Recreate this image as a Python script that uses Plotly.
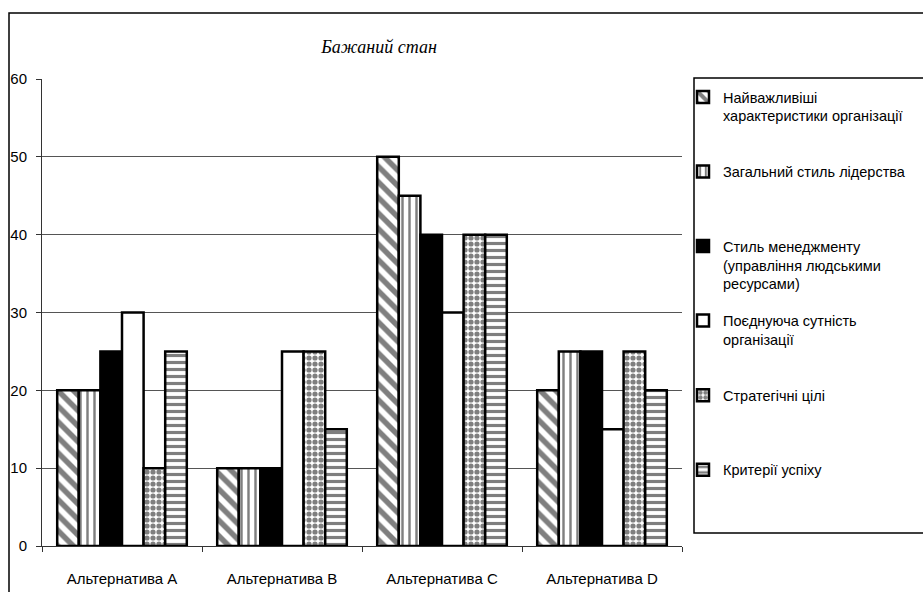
import plotly.graph_objects as go

# Категорії та значення рядів
categories = ["Альтернатива A", "Альтернатива B", "Альтернатива C", "Альтернатива D"]

series_names = [
    "Найважливіші<br>характеристики організації",
    "Загальний стиль лідерства",
    "Стиль менеджменту<br>(управління людськими<br>ресурсами)",
    "Поєднуюча сутність<br>організації",
    "Стратегічні цілі",
    "Критерії успіху",
]

vals_characteristics = [20, 10, 50, 20]
vals_leadership = [20, 10, 45, 25]
vals_management = [25, 10, 40, 25]
vals_glue = [30, 25, 30, 15]
vals_strategy = [10, 25, 40, 25]
vals_success = [25, 15, 40, 20]

series_values = [
    vals_characteristics,
    vals_leadership,
    vals_management,
    vals_glue,
    vals_strategy,
    vals_success,
]

# Заливка кожного ряду (візерунок / суцільний колір)
fills = [
    dict(color="white", pattern=dict(shape="\\", fgcolor="black", bgcolor="white", size=11, solidity=0.5)),
    dict(color="white", pattern=dict(shape="|", fgcolor="black", bgcolor="white", size=7, solidity=0.35)),
    dict(color="black"),
    dict(color="white"),
    dict(color="white", pattern=dict(shape=".", fgcolor="black", bgcolor="white", size=6, solidity=0.6)),
    dict(color="white", pattern=dict(shape="-", fgcolor="black", bgcolor="white", size=7, solidity=0.45)),
]

W, H = 923, 592
L, R, T, B = 42, 682, 79, 546  # межі області побудови в пікселях


def px_x(p):
    return (p - L) / (R - L)


def px_y(p):
    return (B - p) / (B - T)


fig = go.Figure()
for i, (name, vals, fill) in enumerate(zip(series_names, series_values, fills)):
    # доповнюємо підпис до трьох рядків, щоб елементи легенди йшли рівномірно
    n_lines = name.count("<br>") + 1
    label = name + "<br> " * (3 - n_lines)
    marker = dict(line=dict(color="black", width=2.5), **fill)
    fig.add_trace(go.Bar(
        x=categories, y=vals, name=label, marker=marker,
        legendgroup=f"g{i}",
    ))

fig.update_layout(
    width=W, height=H, autosize=False,
    margin=dict(l=L, r=W - R, t=T, b=H - B, pad=0),
    paper_bgcolor="white", plot_bgcolor="white",
    barmode="group", bargap=0.19, bargroupgap=0,
    font=dict(family="Liberation Sans, Arial, sans-serif", size=15, color="black"),
    title=dict(
        text="<i>Бажаний стан</i>",
        font=dict(family="Liberation Serif, Times New Roman, serif", size=18, color="black"),
        x=px_x(379), xref="paper", xanchor="center",
        y=1 - 47 / H, yref="container", yanchor="middle",
    ),
    legend=dict(
        x=px_x(683), xanchor="left",
        y=px_y(81), yanchor="top",
        bgcolor="rgba(0,0,0,0)", borderwidth=0,
        valign="top", tracegroupgap=15, itemwidth=30,
        font=dict(size=14.5, color="black"),
    ),
    showlegend=True,
)

fig.update_xaxes(
    automargin=False,
    showline=True, linecolor="#333", linewidth=1,
    ticks="outside", ticklen=5, tickcolor="#333", tickson="boundaries",
    showgrid=False, ticklabelstandoff=19,
    tickfont=dict(size=15, color="black"),
)
fig.update_yaxes(
    automargin=False,
    range=[0, 60], dtick=10,
    showline=True, linecolor="#333", linewidth=1,
    ticks="outside", ticklen=5, tickcolor="#333",
    showgrid=True, gridcolor="#555", gridwidth=1,
    zeroline=False, ticklabelstandoff=6,
    tickfont=dict(size=15, color="black"),
)

# Зовнішня рамка діаграми та рамка легенди
fig.add_shape(type="rect", xref="paper", yref="paper",
              x0=px_x(9), x1=px_x(W + 20), y0=px_y(H + 20), y1=px_y(13),
              line=dict(color="black", width=1.5), fillcolor="rgba(0,0,0,0)", layer="below")
fig.add_shape(type="rect", xref="paper", yref="paper",
              x0=px_x(694), x1=px_x(W + 20), y0=px_y(533), y1=px_y(78),
              line=dict(color="black", width=1.5), fillcolor="rgba(0,0,0,0)", layer="below")

fig.write_html("out.html")
